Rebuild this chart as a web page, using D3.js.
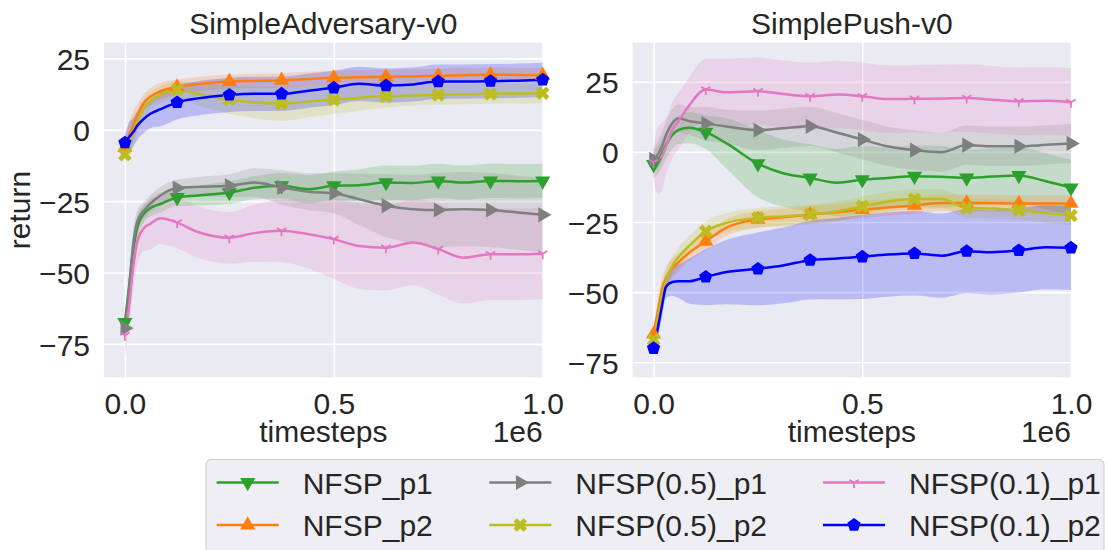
<!DOCTYPE html>
<html>
<head>
<meta charset="utf-8">
<script src="https://cdn.jsdelivr.net/npm/d3@7"></script>
<style>
  body { margin: 0; background: #fff; }
  svg { display: block; font-family: "Liberation Sans", Arial, sans-serif; }
</style>
</head>
<body>
<svg id="chart" width="1109" height="550"></svg>
<script>
// ---- data ----
const timesteps = [0, 10000, 20000, 30000, 45000, 60000, 85000, 125000, 175000, 250000, 310000,
  375000, 440000, 500000, 560000, 625000, 690000, 750000, 810000, 875000, 940000, 1000000];

const seriesNames = ["NFSP_p1", "NFSP_p2", "NFSP(0.5)_p1", "NFSP(0.5)_p2", "NFSP(0.1)_p1", "NFSP(0.1)_p2"];
const seriesColors = ["#2ca02c", "#ff7f0e", "#7f7f7f", "#bcbd22", "#e377c2", "#0000ff"];
const seriesMarkers = ["triDown", "triUp", "triRight", "xFilled", "tri1", "pentagon"];
const panelTitles = ["SimpleAdversary-v0", "SimplePush-v0"];
const yTicks = [-75, -50, -25, 0, 25];
const xTicks = [0, 500000, 1000000];

// SimpleAdversary-v0 means
const advNfspP1 = [-67.5, -55, -42, -34, -29.5, -27.5, -26, -23.7, -23, -22, -20.3, -19.6, -20.8, -19.6, -19.4, -18.5, -18.6, -17.9, -18.5, -17.9, -18, -17.9];
const advNfspP2 = [-6.2, -2, 1.5, 5, 9.4, 11.5, 13.5, 15, 16, 16.9, 17.1, 17.3, 17.8, 18.2, 18.4, 18.6, 18.7, 18.9, 19.1, 19.3, 19.2, 19.1];
const advHalfP1 = [-69.5, -56, -40, -32, -28.4, -26, -23, -20.4, -20, -19.6, -18.5, -20.2, -21.7, -22.2, -24.3, -26.6, -27.8, -28.1, -27.8, -28.1, -29, -29.8];
const advHalfP2 = [-8.7, -5, -1, 3, 7.3, 10, 12.2, 14, 12.5, 10.6, 9.6, 9.1, 9.9, 10.5, 11.2, 11.7, 12, 12.2, 12.4, 12.6, 12.7, 12.8];
const advTenthP1 = [-72, -62, -48, -39, -34.5, -33, -31, -32.5, -35.8, -37.8, -36.2, -35.4, -36.6, -38.3, -40.7, -41.3, -39.5, -41.8, -44.8, -43.6, -43.6, -43.4];
const advTenthP2 = [-4.5, -2.5, -0.8, 1.5, 3.8, 5.5, 7.2, 9.6, 11, 12.2, 12.6, 12.6, 13.7, 14.7, 16.1, 15.5, 15.9, 16.9, 16.9, 17, 17.2, 17.5];

// SimpleAdversary-v0 spread (std)
const advNfspP1Std = [3, 5, 5, 4, 3, 3, 3, 3, 3.5, 4, 4, 4.5, 5, 5, 5.5, 6, 6, 6, 6, 6, 6, 6];
const advNfspP2Std = [3, 5, 5, 4, 3, 3, 3, 2.5, 2.5, 2.5, 2.5, 2.5, 2.5, 2.5, 2.5, 2.5, 2.5, 2.5, 2.5, 2.5, 2.5, 2.5];
const advHalfP1Std = [3, 5, 5, 4, 3, 3, 3, 3, 3.5, 4, 5, 6, 6.5, 7, 9, 11, 12, 13, 13, 13, 13, 13];
const advHalfP2Std = [3, 5, 5, 4, 3.5, 3, 3, 3, 4, 5, 5.5, 6, 5.5, 5, 4.5, 4, 3.5, 3.5, 3.5, 3.5, 3.5, 3.5];
const advTenthP1Std = [8, 8, 8, 8, 8, 9, 9, 9, 9, 9, 10, 11, 12, 14, 15, 15, 15, 16, 16, 16, 16, 16];
const advTenthP2Std = [3, 5, 5, 5, 5, 5, 6, 6, 6, 6, 6, 6, 6, 6, 6, 6, 6, 6, 6, 6, 6, 6];

// SimplePush-v0 means
const pushNfspP1 = [-4.5, -3, -0.5, 2.5, 6, 7.8, 8.6, 7, 3, -4.2, -7.6, -9.3, -11, -9.9, -9.3, -8.7, -8.9, -9.3, -8.8, -8.4, -10.5, -12.8];
const pushNfspP2 = [-65, -57, -49, -45, -41.5, -39.3, -36, -31.9, -27, -24.1, -23.3, -22.3, -21.5, -20.6, -19.8, -19.1, -18.2, -18.2, -18.3, -18.4, -18.4, -18.4];
const pushHalfP1 = [-2.7, -1, 2, 6, 10.3, 11.9, 11, 10.1, 9, 7.7, 8.4, 9.1, 6.8, 4.4, 2, 0.6, -0.1, 2.4, 2, 2, 2.5, 3];
const pushHalfP2 = [-67, -60, -51.5, -46, -40.5, -37.5, -33.5, -28.3, -25.3, -23.5, -23, -22.3, -21.2, -19.4, -17.8, -16.8, -16.8, -20, -20.2, -20.8, -21.8, -22.7];
const pushTenthP1 = [-3.7, -3.2, -1.6, 2, 7.9, 11, 16.5, 22.2, 21.2, 21.6, 20.6, 19.8, 20.4, 19.8, 18.8, 18.9, 19, 19.2, 18.6, 18, 18.2, 17.7];
const pushTenthP2 = [-70, -63, -55, -48, -46.4, -46.1, -46.1, -44.6, -42.8, -41.7, -40.5, -38.6, -38, -37.4, -36.6, -36.2, -37, -35.4, -35.8, -35.1, -34, -34.2];

// SimplePush-v0 spread (std)
const pushNfspP1Std = [5, 5, 5, 5, 5, 5, 5.5, 6, 9, 12, 12, 12, 12, 12, 11, 11, 11, 10, 10, 10, 10, 10];
const pushNfspP2Std = [3, 4, 4, 4, 3.5, 3, 3, 3, 3, 3, 3, 3, 3, 3, 3, 3, 3, 3, 3, 3, 3, 3];
const pushHalfP1Std = [4, 5, 5, 5, 5, 5, 5, 6, 6, 7, 7, 7, 7, 7, 7, 7, 7, 7, 7, 7, 7, 7];
const pushHalfP2Std = [3, 4, 4, 4, 3.5, 3.5, 3.5, 3.5, 3.5, 3.5, 3.5, 3.5, 3.5, 3.5, 3.5, 3.5, 3.5, 3.5, 3.5, 3.5, 3.5, 3.5];
const pushTenthP1Std = [6, 12, 12, 10, 10, 10, 10, 11, 12, 12, 12, 12, 12, 12, 12, 12, 12, 12, 12, 12, 12, 12];
const pushTenthP2Std = [3, 4, 4, 4, 5, 6, 8, 10, 11.5, 13, 13.5, 14, 14.5, 15, 15, 15, 15, 15, 15, 15, 15, 15];

// ---- layout ----
const fontSize = 30;
const panels = [
  { title: panelTitles[0], left: 104, right: 542.7, yDomain: [-86.7, 30.5],
    means: [advNfspP1, advNfspP2, advHalfP1, advHalfP2, advTenthP1, advTenthP2],
    stds: [advNfspP1Std, advNfspP2Std, advHalfP1Std, advHalfP2Std, advTenthP1Std, advTenthP2Std], ylabel: "return" },
  { title: panelTitles[1], left: 632.7, right: 1071, yDomain: [-80.35, 38.9],
    means: [pushNfspP1, pushNfspP2, pushHalfP1, pushHalfP2, pushTenthP1, pushTenthP2],
    stds: [pushNfspP1Std, pushNfspP2Std, pushHalfP1Std, pushHalfP2Std, pushTenthP1Std, pushTenthP2Std], ylabel: null }
];
const plotTop = 42.7, plotBottom = 377.3;

const svg = d3.select("#chart");

// marker shapes
const symbolPentagon = {
  draw(ctx, size) {
    const r = Math.sqrt(size / 2.378);
    for (let i = 0; i < 5; i++) {
      const a = -Math.PI / 2 + i * 2 * Math.PI / 5;
      if (i === 0) ctx.moveTo(r * Math.cos(a), r * Math.sin(a));
      else ctx.lineTo(r * Math.cos(a), r * Math.sin(a));
    }
    ctx.closePath();
  }
};
const symbolTri1 = {
  draw(ctx, size) {
    const r = Math.sqrt(size) / 2;
    ctx.moveTo(0, 0); ctx.lineTo(0, r);
    ctx.moveTo(0, 0); ctx.lineTo(-r * 0.866, -r * 0.5);
    ctx.moveTo(0, 0); ctx.lineTo(r * 0.866, -r * 0.5);
  }
};
const markerDefs = {
  triDown: { type: d3.symbolTriangle, size: 100, rot: 180 },
  triUp: { type: d3.symbolTriangle, size: 100, rot: 0 },
  triRight: { type: d3.symbolTriangle, size: 100, rot: 90 },
  xFilled: { type: d3.symbolCross, size: 115, rot: 45 },
  tri1: { type: symbolTri1, size: 120, rot: 0, stroke: true },
  pentagon: { type: symbolPentagon, size: 115, rot: 0 }
};

function drawMarker(g, kind, color, x, y) {
  const m = markerDefs[kind];
  const p = g.append("path")
    .attr("d", d3.symbol().type(m.type).size(m.size)())
    .attr("transform", `translate(${x},${y}) rotate(${m.rot})`);
  if (m.stroke) p.attr("fill", "none").attr("stroke", color).attr("stroke-width", 1.8);
  else p.attr("fill", color);
}

panels.forEach((panel, pi) => {
  const xScale = d3.scaleLinear().domain([-50000, 1000000]).range([panel.left, panel.right]);
  const yScale = d3.scaleLinear().domain(panel.yDomain).range([plotBottom, plotTop]);
  const width = panel.right - panel.left;
  const height = plotBottom - plotTop;

  svg.append("rect")
    .attr("x", panel.left).attr("y", plotTop)
    .attr("width", width).attr("height", height)
    .attr("fill", "#eaeaf2");

  // grid + tick labels
  const yAxis = svg.append("g")
    .attr("transform", `translate(${panel.left},0)`)
    .call(d3.axisLeft(yScale).tickValues(yTicks).tickSize(-width).tickPadding(14));
  const xAxis = svg.append("g")
    .attr("transform", `translate(0,${plotBottom})`)
    .call(d3.axisBottom(xScale).tickValues(xTicks).tickSize(-height).tickPadding(15)
      .tickFormat(d => (d / 1e6).toFixed(1)));
  [yAxis, xAxis].forEach(ax => {
    ax.select(".domain").remove();
    ax.selectAll(".tick line").attr("stroke", "#fff").attr("stroke-width", 1.6);
    ax.selectAll(".tick text").attr("fill", "#262626").style("font-size", fontSize + "px")
      .style("font-family", '"Liberation Sans", Arial, sans-serif');
  });
  yAxis.selectAll(".tick text").attr("dy", "0.37em");

  const clipId = "clip" + pi;
  svg.append("clipPath").attr("id", clipId)
    .append("rect").attr("x", panel.left).attr("y", plotTop).attr("width", width).attr("height", height);
  const plot = svg.append("g").attr("clip-path", `url(#${clipId})`);

  // bands
  panel.means.forEach((mean, si) => {
    const std = panel.stds[si];
    const area = d3.area()
      .x((d, i) => xScale(timesteps[i]))
      .y0((d, i) => yScale(mean[i] - std[i]))
      .y1((d, i) => yScale(mean[i] + std[i]))
      .curve(d3.curveMonotoneX);
    plot.append("path").datum(mean)
      .attr("d", area)
      .attr("fill", seriesColors[si])
      .attr("fill-opacity", 0.2);
  });

  // lines + markers
  panel.means.forEach((mean, si) => {
    const line = d3.line()
      .x((d, i) => xScale(timesteps[i]))
      .y(d => yScale(d))
      .curve(d3.curveMonotoneX);
    plot.append("path").datum(mean)
      .attr("d", line)
      .attr("fill", "none")
      .attr("stroke", seriesColors[si])
      .attr("stroke-width", 2.5);
    const mg = svg.append("g");
    timesteps.forEach((t, i) => {
      if (t % 125000 === 0) drawMarker(mg, seriesMarkers[si], seriesColors[si], xScale(t), yScale(mean[i]));
    });
  });

  // titles and labels
  const cx = (panel.left + panel.right) / 2;
  svg.append("text").attr("x", cx).attr("y", 34)
    .attr("text-anchor", "middle").attr("fill", "#262626")
    .style("font-size", fontSize + "px").text(panel.title);
  svg.append("text").attr("x", cx).attr("y", 442)
    .attr("text-anchor", "middle").attr("fill", "#262626")
    .style("font-size", fontSize + "px").text("timesteps");
  svg.append("text").attr("x", panel.right).attr("y", 442)
    .attr("text-anchor", "end").attr("fill", "#262626")
    .style("font-size", fontSize + "px").text("1e6");
  if (panel.ylabel) {
    svg.append("text")
      .attr("transform", `translate(30,${(plotTop + plotBottom) / 2}) rotate(-90)`)
      .attr("text-anchor", "middle").attr("fill", "#262626")
      .style("font-size", fontSize + "px").text(panel.ylabel);
  }
});

// ---- legend ----
const legend = svg.append("g");
legend.append("rect")
  .attr("x", 206).attr("y", 459.5).attr("width", 898).attr("height", 100).attr("rx", 5)
  .attr("fill", "#eeeef4").attr("stroke", "#d4d4d8").attr("stroke-width", 1.2);
const legendCols = [216.7, 489.3, 823];
const legendRows = [482.5, 525];
seriesNames.forEach((name, si) => {
  const x0 = legendCols[Math.floor(si / 2)];
  const y0 = legendRows[si % 2];
  legend.append("line")
    .attr("x1", x0).attr("x2", x0 + 62).attr("y1", y0).attr("y2", y0)
    .attr("stroke", seriesColors[si]).attr("stroke-width", 2.5);
  drawMarker(legend, seriesMarkers[si], seriesColors[si], x0 + 31, y0);
  legend.append("text")
    .attr("x", x0 + 86).attr("y", y0 + 11)
    .attr("fill", "#262626").style("font-size", fontSize + "px")
    .text(name);
});
</script>
</body>
</html>
